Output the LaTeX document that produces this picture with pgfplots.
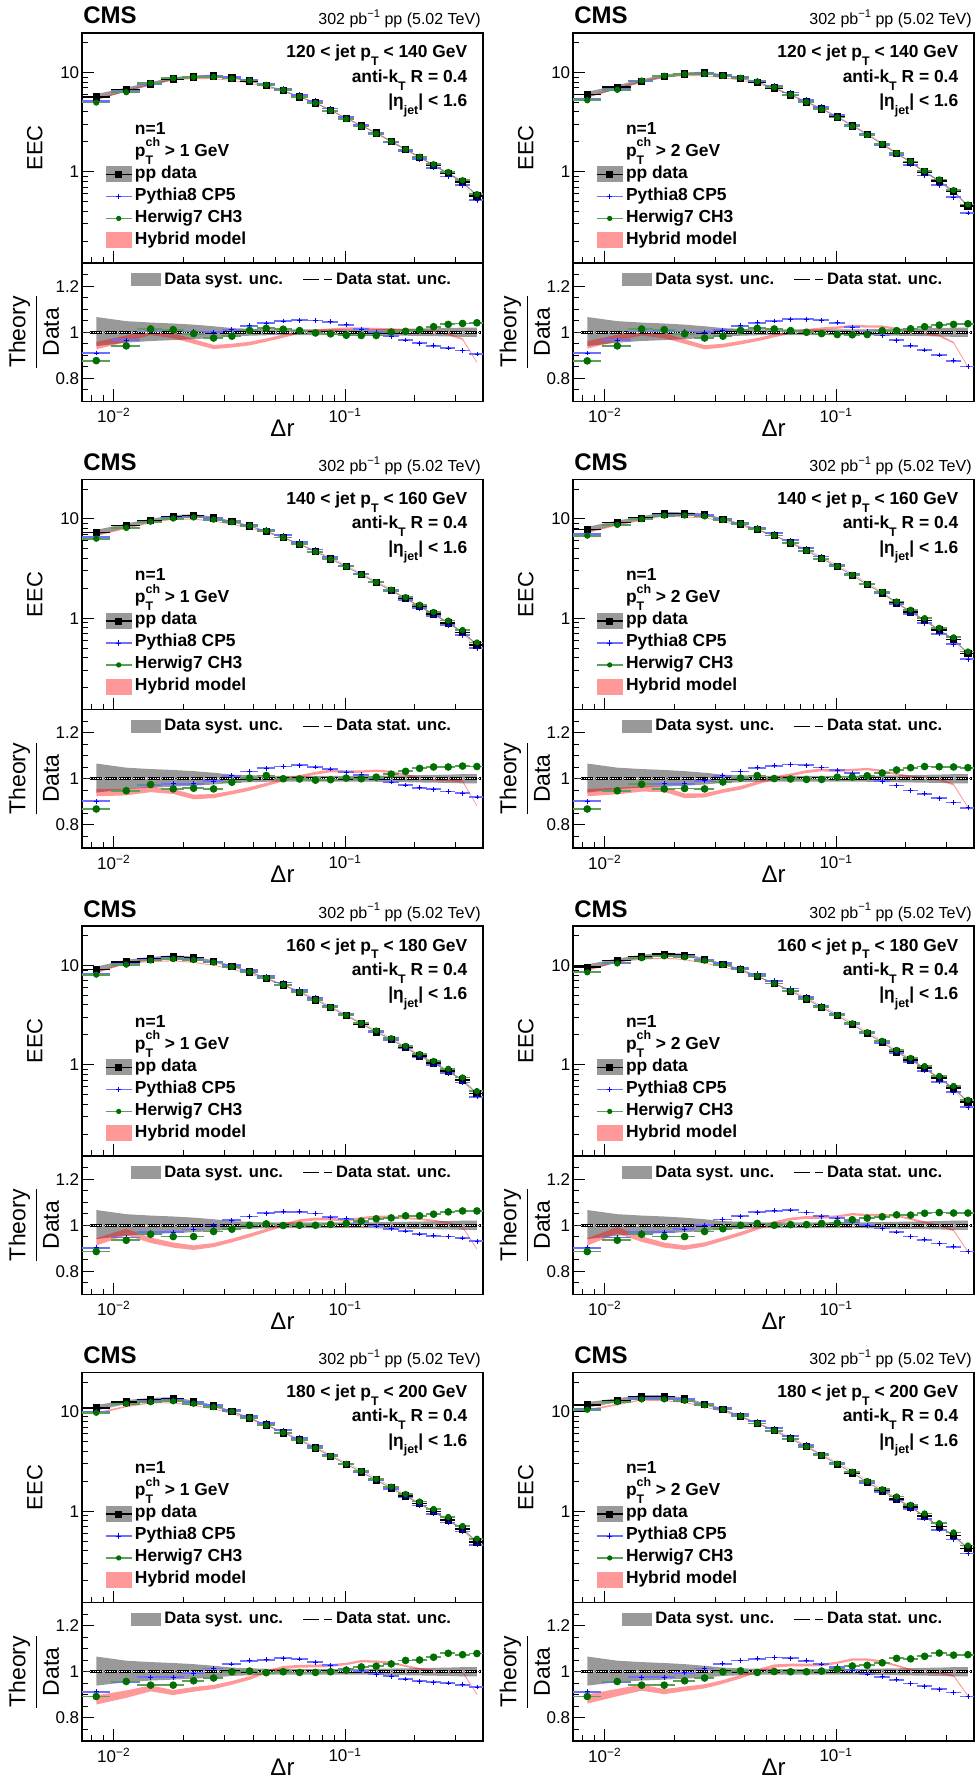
\documentclass[border=0pt]{standalone}
\usepackage{fontspec}
\setmainfont{Liberation Sans}
\usepackage{amsmath}
\usepackage{pgfplots}
\usepackage{pgfplotstable}
\pgfplotsset{compat=1.18}

\definecolor{hgreen}{RGB}{0,110,0}
\definecolor{hgreenl}{RGB}{90,160,90}
\definecolor{pbluel}{RGB}{110,110,255}

\newcommand{\sub}[1]{\raisebox{-0.45em}{\fontsize{6.2}{6.2}\selectfont #1}}
\newcommand{\supr}[1]{\raisebox{0.55em}{\fontsize{6.2}{6.2}\selectfont #1}}

% points: x, relative half bin width, data EEC, Pythia/Data, Herwig/Data
\pgfplotstableread{
x xr d p h
0.00839 0.150 5.67 0.910 0.877
0.01131 0.145 6.72 0.965 0.941
0.01441 0.124 7.67 1.003 1.014
0.01805 0.113 8.63 1.010 1.011
0.02211 0.106 9.03 1.003 0.994
0.02697 0.100 9.25 1.000 0.975
0.03236 0.094 8.83 1.011 0.983
0.03860 0.089 8.23 1.028 1.008
0.04556 0.087 7.38 1.039 1.017
0.05395 0.086 6.57 1.049 1.013
0.06347 0.084 5.67 1.052 1.007
0.07437 0.080 4.93 1.051 0.997
0.08642 0.079 4.15 1.045 0.993
0.1010 0.079 3.44 1.032 0.987
0.1173 0.077 2.90 1.014 0.986
0.1361 0.077 2.45 1.000 0.986
0.1580 0.076 2.01 0.983 1.001
0.1823 0.073 1.67 0.966 1.004
0.2096 0.072 1.40 0.952 1.011
0.2409 0.074 1.16 0.942 1.024
0.2787 0.075 0.96 0.932 1.034
0.3214 0.074 0.79 0.921 1.038
0.3708 0.074 0.57 0.906 1.041
}\tA
% bands: x, data, Hybrid/Data centre c, half width w, side s, syst edge f (upper edge forward, lower edge back)
\pgfplotstableread{
x d c w s f
0.00839 5.67 0.942 0.016 1 1.066
0.01131 6.72 0.972 0.014 1 1.048
0.01441 7.67 1.000 0.012 1 1.042
0.01805 8.63 0.985 0.011 1 1.038
0.02211 9.03 0.960 0.010 1 1.033
0.02697 9.25 0.936 0.009 1 1.026
0.03236 8.83 0.942 0.008 1 1.018
0.03860 8.23 0.951 0.008 1 1.015
0.04556 7.38 0.966 0.007 1 1.013
0.05395 6.57 0.983 0.007 1 1.012
0.06347 5.67 1.000 0.006 1 1.012
0.07437 4.93 1.006 0.006 1 1.012
0.08642 4.15 1.011 0.006 1 1.012
0.1010 3.44 1.016 0.005 1 1.012
0.1173 2.90 1.016 0.005 1 1.012
0.1361 2.45 1.014 0.005 1 1.013
0.1580 2.01 1.012 0.005 1 1.014
0.1823 1.67 1.010 0.004 1 1.015
0.2096 1.40 1.008 0.004 1 1.016
0.2409 1.16 1.005 0.004 1 1.017
0.2787 0.96 0.992 0.004 1 1.018
0.3214 0.79 0.970 0.004 1 1.020
0.3708 0.57 0.870 0.003 1 1.020
0.3708 0.57 0.870 0.003 -1 0.980
0.3214 0.79 0.970 0.004 -1 0.980
0.2787 0.96 0.992 0.004 -1 0.982
0.2409 1.16 1.005 0.004 -1 0.983
0.2096 1.40 1.008 0.004 -1 0.984
0.1823 1.67 1.010 0.004 -1 0.985
0.1580 2.01 1.012 0.005 -1 0.986
0.1361 2.45 1.014 0.005 -1 0.987
0.1173 2.90 1.016 0.005 -1 0.988
0.1010 3.44 1.016 0.005 -1 0.988
0.08642 4.15 1.011 0.006 -1 0.988
0.07437 4.93 1.006 0.006 -1 0.988
0.06347 5.67 1.000 0.006 -1 0.988
0.05395 6.57 0.983 0.007 -1 0.988
0.04556 7.38 0.966 0.007 -1 0.987
0.03860 8.23 0.951 0.008 -1 0.985
0.03236 8.83 0.942 0.008 -1 0.982
0.02697 9.25 0.936 0.009 -1 0.975
0.02211 9.03 0.960 0.010 -1 0.970
0.01805 8.63 0.985 0.011 -1 0.966
0.01441 7.67 1.000 0.012 -1 0.962
0.01131 6.72 0.972 0.014 -1 0.955
0.00839 5.67 0.942 0.016 -1 0.940
}\bA

\pgfplotstableread{
x xr d p h
0.00839 0.150 5.98 0.910 0.876
0.01131 0.145 7.10 0.965 0.941
0.01441 0.124 8.17 1.003 1.014
0.01805 0.113 9.18 1.006 1.011
0.02211 0.106 9.69 1.003 0.993
0.02697 0.100 9.93 1.000 0.975
0.03236 0.094 9.40 1.010 0.983
0.03860 0.089 8.77 1.028 1.008
0.04556 0.087 7.98 1.041 1.017
0.05395 0.086 6.99 1.049 1.014
0.06347 0.084 5.94 1.056 1.007
0.07437 0.080 5.04 1.056 1.000
0.08642 0.079 4.28 1.052 0.994
0.1010 0.079 3.55 1.041 0.990
0.1173 0.077 2.90 1.021 0.989
0.1361 0.077 2.37 1.003 0.990
0.1580 0.076 1.89 0.986 1.007
0.1823 0.073 1.53 0.965 1.007
0.2096 0.072 1.25 0.941 1.015
0.2409 0.074 0.99 0.923 1.024
0.2787 0.075 0.81 0.901 1.031
0.3214 0.074 0.63 0.876 1.034
0.3708 0.074 0.45 0.852 1.037
}\tB
\pgfplotstableread{
x d c w s f
0.00839 5.98 0.945 0.016 1 1.066
0.01131 7.10 0.975 0.014 1 1.048
0.01441 8.17 0.998 0.012 1 1.042
0.01805 9.18 0.985 0.011 1 1.038
0.02211 9.69 0.960 0.010 1 1.033
0.02697 9.93 0.935 0.009 1 1.026
0.03236 9.40 0.942 0.008 1 1.018
0.03860 8.77 0.955 0.008 1 1.015
0.04556 7.98 0.968 0.007 1 1.013
0.05395 6.99 0.985 0.007 1 1.012
0.06347 5.94 1.000 0.006 1 1.012
0.07437 5.04 1.008 0.006 1 1.012
0.08642 4.28 1.015 0.006 1 1.012
0.1010 3.55 1.020 0.005 1 1.012
0.1173 2.90 1.027 0.005 1 1.012
0.1361 2.37 1.025 0.005 1 1.013
0.1580 1.89 1.025 0.005 1 1.014
0.1823 1.53 1.015 0.004 1 1.015
0.2096 1.25 1.000 0.004 1 1.016
0.2409 0.99 0.995 0.004 1 1.017
0.2787 0.81 0.985 0.004 1 1.018
0.3214 0.63 0.955 0.004 1 1.020
0.3708 0.45 0.850 0.003 1 1.020
0.3708 0.45 0.850 0.003 -1 0.980
0.3214 0.63 0.955 0.004 -1 0.980
0.2787 0.81 0.985 0.004 -1 0.982
0.2409 0.99 0.995 0.004 -1 0.983
0.2096 1.25 1.000 0.004 -1 0.984
0.1823 1.53 1.015 0.004 -1 0.985
0.1580 1.89 1.025 0.005 -1 0.986
0.1361 2.37 1.025 0.005 -1 0.987
0.1173 2.90 1.027 0.005 -1 0.988
0.1010 3.55 1.020 0.005 -1 0.988
0.08642 4.28 1.015 0.006 -1 0.988
0.07437 5.04 1.008 0.006 -1 0.988
0.06347 5.94 1.000 0.006 -1 0.988
0.05395 6.99 0.985 0.007 -1 0.988
0.04556 7.98 0.968 0.007 -1 0.987
0.03860 8.77 0.955 0.008 -1 0.985
0.03236 9.40 0.942 0.008 -1 0.982
0.02697 9.93 0.935 0.009 -1 0.975
0.02211 9.69 0.960 0.010 -1 0.970
0.01805 9.18 0.985 0.011 -1 0.966
0.01441 8.17 0.998 0.012 -1 0.962
0.01131 7.10 0.975 0.014 -1 0.955
0.00839 5.98 0.945 0.016 -1 0.940
}\bB

\pgfplotstableread{
x xr d p h
0.00839 0.150 7.28 0.902 0.869
0.01131 0.145 8.57 0.948 0.948
0.01441 0.124 9.62 0.971 0.975
0.01805 0.113 10.55 0.978 0.956
0.02211 0.106 10.8 0.979 0.959
0.02697 0.100 10.3 0.989 0.956
0.03236 0.094 9.40 1.013 0.985
0.03860 0.089 8.51 1.031 1.003
0.04556 0.087 7.51 1.045 1.014
0.05395 0.086 6.49 1.053 1.000
0.06347 0.084 5.56 1.058 0.999
0.07437 0.080 4.69 1.051 0.994
0.08642 0.079 3.96 1.042 0.996
0.1010 0.079 3.31 1.028 1.003
0.1173 0.077 2.75 1.017 1.000
0.1361 0.077 2.29 1.001 1.007
0.1580 0.076 1.90 0.986 1.020
0.1823 0.073 1.58 0.973 1.032
0.2096 0.072 1.31 0.961 1.045
0.2409 0.074 1.10 0.955 1.051
0.2787 0.075 0.90 0.945 1.051
0.3214 0.074 0.72 0.937 1.055
0.3708 0.074 0.54 0.921 1.053
}\tC
\pgfplotstableread{
x d c w s f
0.00839 7.28 0.940 0.016 1 1.066
0.01131 8.57 0.942 0.014 1 1.048
0.01441 9.62 0.954 0.012 1 1.042
0.01805 10.55 0.945 0.011 1 1.038
0.02211 10.8 0.921 0.010 1 1.033
0.02697 10.3 0.925 0.009 1 1.026
0.03236 9.40 0.940 0.008 1 1.018
0.03860 8.51 0.956 0.008 1 1.015
0.04556 7.51 0.975 0.007 1 1.013
0.05395 6.49 0.996 0.007 1 1.012
0.06347 5.56 1.010 0.006 1 1.012
0.07437 4.69 1.024 0.006 1 1.012
0.08642 3.96 1.034 0.006 1 1.012
0.1010 3.31 1.031 0.005 1 1.012
0.1173 2.75 1.031 0.005 1 1.012
0.1361 2.29 1.035 0.005 1 1.013
0.1580 1.90 1.030 0.005 1 1.014
0.1823 1.58 1.017 0.004 1 1.015
0.2096 1.31 1.003 0.004 1 1.016
0.2409 1.10 0.996 0.004 1 1.017
0.2787 0.90 0.993 0.004 1 1.018
0.3214 0.72 0.989 0.004 1 1.020
0.3708 0.54 0.883 0.003 1 1.020
0.3708 0.54 0.883 0.003 -1 0.980
0.3214 0.72 0.989 0.004 -1 0.980
0.2787 0.90 0.993 0.004 -1 0.982
0.2409 1.10 0.996 0.004 -1 0.983
0.2096 1.31 1.003 0.004 -1 0.984
0.1823 1.58 1.017 0.004 -1 0.985
0.1580 1.90 1.030 0.005 -1 0.986
0.1361 2.29 1.035 0.005 -1 0.987
0.1173 2.75 1.031 0.005 -1 0.988
0.1010 3.31 1.031 0.005 -1 0.988
0.08642 3.96 1.034 0.006 -1 0.988
0.07437 4.69 1.024 0.006 -1 0.988
0.06347 5.56 1.010 0.006 -1 0.988
0.05395 6.49 0.996 0.007 -1 0.988
0.04556 7.51 0.975 0.007 -1 0.987
0.03860 8.51 0.956 0.008 -1 0.985
0.03236 9.40 0.940 0.008 -1 0.982
0.02697 10.3 0.925 0.009 -1 0.975
0.02211 10.8 0.921 0.010 -1 0.970
0.01805 10.55 0.945 0.011 -1 0.966
0.01441 9.62 0.954 0.012 -1 0.962
0.01131 8.57 0.942 0.014 -1 0.955
0.00839 7.28 0.940 0.016 -1 0.940
}\bC

\pgfplotstableread{
x xr d p h
0.00839 0.150 7.81 0.902 0.869
0.01131 0.145 9.19 0.948 0.948
0.01441 0.124 10.2 0.975 0.976
0.01805 0.113 11.3 0.978 0.956
0.02211 0.106 11.3 0.978 0.958
0.02697 0.100 11.1 0.992 0.956
0.03236 0.094 9.92 1.013 0.986
0.03860 0.089 8.91 1.031 1.003
0.04556 0.087 7.81 1.048 1.014
0.05395 0.086 6.80 1.056 1.001
0.06347 0.084 5.73 1.062 0.999
0.07437 0.080 4.80 1.058 0.997
0.08642 0.079 3.99 1.049 0.997
0.1010 0.079 3.31 1.037 1.007
0.1173 0.077 2.71 1.024 1.007
0.1361 0.077 2.18 1.010 1.013
0.1580 0.076 1.79 0.989 1.025
0.1823 0.073 1.42 0.971 1.038
0.2096 0.072 1.16 0.949 1.048
0.2409 0.074 0.95 0.935 1.053
0.2787 0.075 0.76 0.916 1.052
0.3214 0.074 0.61 0.897 1.051
0.3708 0.074 0.44 0.874 1.048
}\tD
\pgfplotstableread{
x d c w s f
0.00839 7.81 0.940 0.016 1 1.066
0.01131 9.19 0.947 0.014 1 1.048
0.01441 10.2 0.956 0.012 1 1.042
0.01805 11.3 0.954 0.011 1 1.038
0.02211 11.3 0.926 0.010 1 1.033
0.02697 11.1 0.928 0.009 1 1.026
0.03236 9.92 0.947 0.008 1 1.018
0.03860 8.91 0.961 0.008 1 1.015
0.04556 7.81 0.982 0.007 1 1.013
0.05395 6.80 1.003 0.007 1 1.012
0.06347 5.73 1.017 0.006 1 1.012
0.07437 4.80 1.031 0.006 1 1.012
0.08642 3.99 1.038 0.006 1 1.012
0.1010 3.31 1.034 0.005 1 1.012
0.1173 2.71 1.038 0.005 1 1.012
0.1361 2.18 1.042 0.005 1 1.013
0.1580 1.79 1.034 0.005 1 1.014
0.1823 1.42 1.020 0.004 1 1.015
0.2096 1.16 1.010 0.004 1 1.016
0.2409 0.95 1.003 0.004 1 1.017
0.2787 0.76 0.996 0.004 1 1.018
0.3214 0.61 0.975 0.004 1 1.020
0.3708 0.44 0.876 0.003 1 1.020
0.3708 0.44 0.876 0.003 -1 0.980
0.3214 0.61 0.975 0.004 -1 0.980
0.2787 0.76 0.996 0.004 -1 0.982
0.2409 0.95 1.003 0.004 -1 0.983
0.2096 1.16 1.010 0.004 -1 0.984
0.1823 1.42 1.020 0.004 -1 0.985
0.1580 1.79 1.034 0.005 -1 0.986
0.1361 2.18 1.042 0.005 -1 0.987
0.1173 2.71 1.038 0.005 -1 0.988
0.1010 3.31 1.034 0.005 -1 0.988
0.08642 3.99 1.038 0.006 -1 0.988
0.07437 4.80 1.031 0.006 -1 0.988
0.06347 5.73 1.017 0.006 -1 0.988
0.05395 6.80 1.003 0.007 -1 0.988
0.04556 7.81 0.982 0.007 -1 0.987
0.03860 8.91 0.961 0.008 -1 0.985
0.03236 9.92 0.947 0.008 -1 0.982
0.02697 11.1 0.928 0.009 -1 0.975
0.02211 11.3 0.926 0.010 -1 0.970
0.01805 11.3 0.954 0.011 -1 0.966
0.01441 10.2 0.956 0.012 -1 0.962
0.01131 9.19 0.947 0.014 -1 0.955
0.00839 7.81 0.940 0.016 -1 0.940
}\bD

\pgfplotstableread{
x xr d p h
0.00839 0.150 9.12 0.903 0.886
0.01131 0.145 10.9 0.947 0.935
0.01441 0.124 11.7 0.971 0.961
0.01805 0.113 12.2 0.971 0.951
0.02211 0.106 11.9 0.982 0.951
0.02697 0.100 11.0 0.999 0.973
0.03236 0.094 9.85 1.022 0.983
0.03860 0.089 8.63 1.038 1.000
0.04556 0.087 7.45 1.052 1.006
0.05395 0.086 6.38 1.058 0.999
0.06347 0.084 5.38 1.059 1.000
0.07437 0.080 4.50 1.051 1.000
0.08642 0.079 3.77 1.035 1.004
0.1010 0.079 3.13 1.028 1.008
0.1173 0.077 2.58 1.015 1.018
0.1361 0.077 2.15 0.997 1.028
0.1580 0.076 1.79 0.985 1.032
0.1823 0.073 1.49 0.975 1.041
0.2096 0.072 1.23 0.962 1.041
0.2409 0.074 1.04 0.955 1.048
0.2787 0.075 0.86 0.951 1.058
0.3214 0.074 0.70 0.945 1.062
0.3708 0.074 0.51 0.931 1.062
}\tE
\pgfplotstableread{
x d c w s f
0.00839 9.12 0.928 0.016 1 1.066
0.01131 10.9 0.971 0.014 1 1.048
0.01441 11.7 0.935 0.012 1 1.042
0.01805 12.2 0.914 0.011 1 1.038
0.02211 11.9 0.903 0.010 1 1.033
0.02697 11.0 0.914 0.009 1 1.026
0.03236 9.85 0.934 0.008 1 1.018
0.03860 8.63 0.956 0.008 1 1.015
0.04556 7.45 0.978 0.007 1 1.013
0.05395 6.38 1.001 0.007 1 1.012
0.06347 5.38 1.020 0.006 1 1.012
0.07437 4.50 1.027 0.006 1 1.012
0.08642 3.77 1.027 0.006 1 1.012
0.1010 3.13 1.020 0.005 1 1.012
0.1173 2.58 1.031 0.005 1 1.012
0.1361 2.15 1.037 0.005 1 1.013
0.1580 1.79 1.037 0.005 1 1.014
0.1823 1.49 1.031 0.004 1 1.015
0.2096 1.23 1.027 0.004 1 1.016
0.2409 1.04 1.020 0.004 1 1.017
0.2787 0.86 1.010 0.004 1 1.018
0.3214 0.70 0.992 0.004 1 1.020
0.3708 0.51 0.897 0.003 1 1.020
0.3708 0.51 0.897 0.003 -1 0.980
0.3214 0.70 0.992 0.004 -1 0.980
0.2787 0.86 1.010 0.004 -1 0.982
0.2409 1.04 1.020 0.004 -1 0.983
0.2096 1.23 1.027 0.004 -1 0.984
0.1823 1.49 1.031 0.004 -1 0.985
0.1580 1.79 1.037 0.005 -1 0.986
0.1361 2.15 1.037 0.005 -1 0.987
0.1173 2.58 1.031 0.005 -1 0.988
0.1010 3.13 1.020 0.005 -1 0.988
0.08642 3.77 1.027 0.006 -1 0.988
0.07437 4.50 1.027 0.006 -1 0.988
0.06347 5.38 1.020 0.006 -1 0.988
0.05395 6.38 1.001 0.007 -1 0.988
0.04556 7.45 0.978 0.007 -1 0.987
0.03860 8.63 0.956 0.008 -1 0.985
0.03236 9.85 0.934 0.008 -1 0.982
0.02697 11.0 0.914 0.009 -1 0.975
0.02211 11.9 0.903 0.010 -1 0.970
0.01805 12.2 0.914 0.011 -1 0.966
0.01441 11.7 0.935 0.012 -1 0.962
0.01131 10.9 0.971 0.014 -1 0.955
0.00839 9.12 0.928 0.016 -1 0.940
}\bE

\pgfplotstableread{
x xr d p h
0.00839 0.150 9.62 0.903 0.886
0.01131 0.145 11.2 0.947 0.935
0.01441 0.124 12.3 0.971 0.961
0.01805 0.113 13.0 0.971 0.951
0.02211 0.106 12.7 0.983 0.951
0.02697 0.100 11.5 1.000 0.973
0.03236 0.094 10.3 1.025 0.985
0.03860 0.089 9.12 1.039 1.000
0.04556 0.087 7.80 1.056 1.008
0.05395 0.086 6.58 1.063 1.000
0.06347 0.084 5.51 1.066 1.003
0.07437 0.080 4.60 1.055 1.003
0.08642 0.079 3.77 1.039 1.008
0.1010 0.079 3.13 1.031 1.010
0.1173 0.077 2.55 1.014 1.024
0.1361 0.077 2.06 1.000 1.031
0.1580 0.076 1.68 0.986 1.037
0.1823 0.073 1.35 0.971 1.045
0.2096 0.072 1.12 0.951 1.044
0.2409 0.074 0.92 0.937 1.052
0.2787 0.075 0.73 0.921 1.055
0.3214 0.074 0.58 0.907 1.053
0.3708 0.074 0.42 0.886 1.053
}\tF
\pgfplotstableread{
x d c w s f
0.00839 9.62 0.928 0.016 1 1.066
0.01131 11.2 0.978 0.014 1 1.048
0.01441 12.3 0.940 0.012 1 1.042
0.01805 13.0 0.914 0.011 1 1.038
0.02211 12.7 0.903 0.010 1 1.033
0.02697 11.5 0.917 0.009 1 1.026
0.03236 10.3 0.940 0.008 1 1.018
0.03860 9.12 0.963 0.008 1 1.015
0.04556 7.80 0.987 0.007 1 1.013
0.05395 6.58 1.010 0.007 1 1.012
0.06347 5.51 1.027 0.006 1 1.012
0.07437 4.60 1.034 0.006 1 1.012
0.08642 3.77 1.034 0.006 1 1.012
0.1010 3.13 1.038 0.005 1 1.012
0.1173 2.55 1.048 0.005 1 1.012
0.1361 2.06 1.044 0.005 1 1.013
0.1580 1.68 1.044 0.005 1 1.014
0.1823 1.35 1.041 0.004 1 1.015
0.2096 1.12 1.027 0.004 1 1.016
0.2409 0.92 1.013 0.004 1 1.017
0.2787 0.73 0.999 0.004 1 1.018
0.3214 0.58 0.978 0.004 1 1.020
0.3708 0.42 0.886 0.003 1 1.020
0.3708 0.42 0.886 0.003 -1 0.980
0.3214 0.58 0.978 0.004 -1 0.980
0.2787 0.73 0.999 0.004 -1 0.982
0.2409 0.92 1.013 0.004 -1 0.983
0.2096 1.12 1.027 0.004 -1 0.984
0.1823 1.35 1.041 0.004 -1 0.985
0.1580 1.68 1.044 0.005 -1 0.986
0.1361 2.06 1.044 0.005 -1 0.987
0.1173 2.55 1.048 0.005 -1 0.988
0.1010 3.13 1.038 0.005 -1 0.988
0.08642 3.77 1.034 0.006 -1 0.988
0.07437 4.60 1.034 0.006 -1 0.988
0.06347 5.51 1.027 0.006 -1 0.988
0.05395 6.58 1.010 0.007 -1 0.988
0.04556 7.80 0.987 0.007 -1 0.987
0.03860 9.12 0.963 0.008 -1 0.985
0.03236 10.3 0.940 0.008 -1 0.982
0.02697 11.5 0.917 0.009 -1 0.975
0.02211 12.7 0.903 0.010 -1 0.970
0.01805 13.0 0.914 0.011 -1 0.966
0.01441 12.3 0.940 0.012 -1 0.962
0.01131 11.2 0.978 0.014 -1 0.955
0.00839 9.62 0.928 0.016 -1 0.940
}\bF

\pgfplotstableread{
x xr d p h
0.00839 0.150 11.0 0.914 0.893
0.01131 0.145 12.6 0.956 0.958
0.01441 0.124 13.3 0.976 0.942
0.01805 0.113 13.6 0.976 0.942
0.02211 0.106 12.6 0.994 0.961
0.02697 0.100 11.5 1.014 0.973
0.03236 0.094 10.1 1.034 1.000
0.03860 0.089 8.69 1.048 1.003
0.04556 0.087 7.39 1.052 0.996
0.05395 0.086 6.18 1.059 1.000
0.06347 0.084 5.21 1.055 0.997
0.07437 0.080 4.33 1.041 0.997
0.08642 0.079 3.59 1.028 1.000
0.1010 0.079 2.98 1.014 1.007
0.1173 0.077 2.48 1.004 1.021
0.1361 0.077 2.06 0.989 1.024
0.1580 0.076 1.71 0.980 1.034
0.1823 0.073 1.42 0.969 1.049
0.2096 0.072 1.19 0.959 1.051
0.2409 0.074 0.99 0.954 1.063
0.2787 0.075 0.81 0.951 1.080
0.3214 0.074 0.66 0.944 1.074
0.3708 0.074 0.49 0.934 1.079
}\tG
\pgfplotstableread{
x d c w s f
0.00839 11.0 0.878 0.020 1 1.066
0.01131 12.6 0.903 0.016 1 1.048
0.01441 13.3 0.928 0.013 1 1.042
0.01805 13.6 0.910 0.011 1 1.038
0.02211 12.6 0.924 0.010 1 1.033
0.02697 11.5 0.934 0.009 1 1.026
0.03236 10.1 0.952 0.008 1 1.018
0.03860 8.69 0.973 0.008 1 1.015
0.04556 7.39 0.999 0.007 1 1.013
0.05395 6.18 1.018 0.007 1 1.012
0.06347 5.21 1.024 0.006 1 1.012
0.07437 4.33 1.025 0.006 1 1.012
0.08642 3.59 1.027 0.006 1 1.012
0.1010 2.98 1.034 0.005 1 1.012
0.1173 2.48 1.046 0.005 1 1.012
0.1361 2.06 1.044 0.005 1 1.013
0.1580 1.71 1.039 0.005 1 1.014
0.1823 1.42 1.025 0.004 1 1.015
0.2096 1.19 1.013 0.004 1 1.016
0.2409 0.99 1.004 0.004 1 1.017
0.2787 0.81 1.001 0.004 1 1.018
0.3214 0.66 0.999 0.004 1 1.020
0.3708 0.49 0.903 0.003 1 1.020
0.3708 0.49 0.903 0.003 -1 0.980
0.3214 0.66 0.999 0.004 -1 0.980
0.2787 0.81 1.001 0.004 -1 0.982
0.2409 0.99 1.004 0.004 -1 0.983
0.2096 1.19 1.013 0.004 -1 0.984
0.1823 1.42 1.025 0.004 -1 0.985
0.1580 1.71 1.039 0.005 -1 0.986
0.1361 2.06 1.044 0.005 -1 0.987
0.1173 2.48 1.046 0.005 -1 0.988
0.1010 2.98 1.034 0.005 -1 0.988
0.08642 3.59 1.027 0.006 -1 0.988
0.07437 4.33 1.025 0.006 -1 0.988
0.06347 5.21 1.024 0.006 -1 0.988
0.05395 6.18 1.018 0.007 -1 0.988
0.04556 7.39 0.999 0.007 -1 0.987
0.03860 8.69 0.973 0.008 -1 0.985
0.03236 10.1 0.952 0.008 -1 0.982
0.02697 11.5 0.934 0.009 -1 0.975
0.02211 12.6 0.924 0.010 -1 0.970
0.01805 13.6 0.910 0.011 -1 0.966
0.01441 13.3 0.928 0.013 -1 0.962
0.01131 12.6 0.903 0.016 -1 0.955
0.00839 11.0 0.878 0.020 -1 0.940
}\bG

\pgfplotstableread{
x xr d p h
0.00839 0.150 11.8 0.914 0.893
0.01131 0.145 13.1 0.956 0.958
0.01441 0.124 14.2 0.976 0.942
0.01805 0.113 14.2 0.976 0.942
0.02211 0.106 13.5 0.996 0.961
0.02697 0.100 12.0 1.014 0.973
0.03236 0.094 10.6 1.035 1.000
0.03860 0.089 9.04 1.049 1.004
0.04556 0.087 7.69 1.056 0.997
0.05395 0.086 6.48 1.062 1.001
0.06347 0.084 5.38 1.059 1.000
0.07437 0.080 4.47 1.048 1.000
0.08642 0.079 3.65 1.034 1.003
0.1010 0.079 2.98 1.022 1.011
0.1173 0.077 2.44 1.007 1.025
0.1361 0.077 1.96 0.990 1.028
0.1580 0.076 1.60 0.979 1.039
0.1823 0.073 1.33 0.965 1.058
0.2096 0.072 1.10 0.949 1.056
0.2409 0.074 0.89 0.937 1.067
0.2787 0.075 0.70 0.924 1.081
0.3214 0.074 0.57 0.910 1.072
0.3708 0.074 0.42 0.893 1.074
}\tH
\pgfplotstableread{
x d c w s f
0.00839 11.8 0.882 0.020 1 1.066
0.01131 13.1 0.910 0.016 1 1.048
0.01441 14.2 0.931 0.013 1 1.042
0.01805 14.2 0.914 0.011 1 1.038
0.02211 13.5 0.926 0.010 1 1.033
0.02697 12.0 0.937 0.009 1 1.026
0.03236 10.6 0.956 0.008 1 1.018
0.03860 9.04 0.979 0.008 1 1.015
0.04556 7.69 1.004 0.007 1 1.013
0.05395 6.48 1.025 0.007 1 1.012
0.06347 5.38 1.029 0.006 1 1.012
0.07437 4.47 1.029 0.006 1 1.012
0.08642 3.65 1.029 0.006 1 1.012
0.1010 2.98 1.039 0.005 1 1.012
0.1173 2.44 1.053 0.005 1 1.012
0.1361 1.96 1.053 0.005 1 1.013
0.1580 1.60 1.044 0.005 1 1.014
0.1823 1.33 1.027 0.004 1 1.015
0.2096 1.10 1.008 0.004 1 1.016
0.2409 0.89 0.999 0.004 1 1.017
0.2787 0.70 0.994 0.004 1 1.018
0.3214 0.57 0.983 0.004 1 1.020
0.3708 0.42 0.896 0.003 1 1.020
0.3708 0.42 0.896 0.003 -1 0.980
0.3214 0.57 0.983 0.004 -1 0.980
0.2787 0.70 0.994 0.004 -1 0.982
0.2409 0.89 0.999 0.004 -1 0.983
0.2096 1.10 1.008 0.004 -1 0.984
0.1823 1.33 1.027 0.004 -1 0.985
0.1580 1.60 1.044 0.005 -1 0.986
0.1361 1.96 1.053 0.005 -1 0.987
0.1173 2.44 1.053 0.005 -1 0.988
0.1010 2.98 1.039 0.005 -1 0.988
0.08642 3.65 1.029 0.006 -1 0.988
0.07437 4.47 1.029 0.006 -1 0.988
0.06347 5.38 1.029 0.006 -1 0.988
0.05395 6.48 1.025 0.007 -1 0.988
0.04556 7.69 1.004 0.007 -1 0.987
0.03860 9.04 0.979 0.008 -1 0.985
0.03236 10.6 0.956 0.008 -1 0.982
0.02697 12.0 0.937 0.009 -1 0.975
0.02211 13.5 0.926 0.010 -1 0.970
0.01805 14.2 0.914 0.011 -1 0.966
0.01441 14.2 0.931 0.013 -1 0.962
0.01131 13.1 0.910 0.016 -1 0.955
0.00839 11.8 0.882 0.020 -1 0.940
}\bH

% #1 left, #2 top, #3 points table, #4 band table, #5 #6 jet pT range, #7 track pT cut
\newcommand{\panel}[7]{%
\begin{scope}[shift={(#1,-#2)}]
\begin{axis}[xmode=log, ymode=log, scale only axis, width=200.5pt, height=115pt,
    at={(0pt,0pt)}, anchor=north west,
    xmin=0.00728, xmax=0.394, ymin=0.12, ymax=25,
    axis line style={line width=0.9pt},
    tick align=inside, xtick pos=left, ytick pos=left,
    major tick length=6pt, minor tick length=3pt,
    tick style={black, line width=0.5pt},
    xtick={0.01,0.1}, xticklabels={},
    minor xtick={0.008,0.009,0.02,0.03,0.04,0.05,0.06,0.07,0.08,0.09,0.2,0.3},
    ytick={1,10}, yticklabels={1,10},
    minor ytick={0.2,0.3,0.4,0.5,0.6,0.7,0.8,0.9,2,3,4,5,6,7,8,9,20},
    tick label style={font=\fontsize{8.5}{9}\selectfont},
    yticklabel style={inner xsep=1.2pt},
    legend cell align=left,
    legend style={at={(0.0561,0.626)}, anchor=north west, draw=none, fill=none,
      inner sep=0pt, row sep=0pt,
      font=\bfseries\fontsize{8.7}{9}\selectfont,
      nodes={inner xsep=1.25pt, inner ysep=0pt, text height=7.5pt, text depth=3.5pt}}]
  \addplot[fill=black!40, draw=none, forget plot] table[x=x, y expr=\thisrow{d}*\thisrow{f}] {#4};
  \addplot[fill=red, fill opacity=0.4, draw=none, forget plot] table[x=x, y expr=\thisrow{d}*(\thisrow{c}+\thisrow{s}*\thisrow{w})] {#4};
  \addplot[black, only marks, mark=square*, mark size=1.6pt, forget plot,
    error bars/x dir=both, error bars/x explicit relative, error bars/error mark=none,
    error bars/error bar style={black, line width=0.8pt}] table[x=x, y=d, x error=xr] {#3};
  \addplot[blue, only marks, mark=+, mark size=1.2pt, forget plot,
    error bars/x dir=both, error bars/x explicit relative, error bars/error mark=none,
    error bars/error bar style={pbluel, line width=0.9pt}] table[x=x, y expr=\thisrow{d}*\thisrow{p}, x error=xr] {#3};
  \addplot[hgreen, only marks, mark=*, mark size=1.35pt, forget plot,
    error bars/x dir=both, error bars/x explicit relative, error bars/error mark=none,
    error bars/error bar style={hgreenl, line width=0.9pt}] table[x=x, y expr=\thisrow{d}*\thisrow{h}, x error=xr] {#3};
  \addlegendimage{empty legend}
  \addlegendentry{n=1}
  \addlegendimage{empty legend}
  \addlegendentry{p\rlap{\sub{T}}\supr{ch} > #7 GeV}
  \addlegendimage{legend image code/.code={\fill[black!40, draw=none] (0pt,-4pt) rectangle (13pt,4pt);
      \draw[black, line width=0.6pt] (0pt,0pt) -- (13pt,0pt);
      \draw[black, mark=square*, mark size=1.5pt] plot coordinates {(6.5pt,0pt)};}}
  \addlegendentry{pp data}
  \addlegendimage{legend image code/.code={\draw[pbluel, line width=0.8pt] (0pt,0pt) -- (13pt,0pt);
      \draw[blue, mark=+, mark size=1.3pt] plot coordinates {(6.5pt,0pt)};}}
  \addlegendentry{Pythia8 CP5}
  \addlegendimage{legend image code/.code={\draw[hgreenl, line width=0.8pt] (0pt,0pt) -- (13pt,0pt);
      \draw[hgreen, mark=*, mark size=1.1pt] plot coordinates {(6.5pt,0pt)};}}
  \addlegendentry{Herwig7 CH3}
  \addlegendimage{legend image code/.code={\fill[red, fill opacity=0.4, draw=none] (0pt,-4pt) rectangle (13pt,4pt);}}
  \addlegendentry{Hybrid model}
\end{axis}
\begin{axis}[xmode=log, scale only axis, width=200.5pt, height=69.25pt,
    at={(0pt,-115pt)}, anchor=north west,
    xmin=0.00728, xmax=0.394, ymin=0.7, ymax=1.3,
    axis line style={line width=0.9pt},
    tick align=inside, xtick pos=left, ytick pos=left,
    major tick length=6pt, minor tick length=3pt,
    tick style={black, line width=0.5pt},
    xtick={0.01,0.1}, xticklabels={{10\textsuperscript{−2}},{10\textsuperscript{−1}}},
    minor xtick={0.008,0.009,0.02,0.03,0.04,0.05,0.06,0.07,0.08,0.09,0.2,0.3},
    ytick={0.8,1,1.2}, yticklabels={0.8,1,1.2},
    minor ytick={0.75,0.85,0.9,0.95,1.05,1.1,1.15,1.25},
    tick label style={font=\fontsize{8.5}{9}\selectfont},
    yticklabel style={inner xsep=1.2pt},
    legend columns=2, legend cell align=left,
    legend style={at={(0.121,0.942)}, anchor=north west, draw=none, fill=none,
      inner sep=0pt,
      font=\bfseries\fontsize{8.3}{9}\selectfont,
      nodes={inner xsep=1.75pt, inner ysep=0pt, text height=6.5pt, text depth=2pt},
      /tikz/every even column/.append style={column sep=8pt}}]
  \addplot[fill=black!40, draw=none, forget plot] table[x=x, y=f] {#4};
  \addplot[fill=red, fill opacity=0.4, draw=none, forget plot] table[x=x, y expr=\thisrow{c}+\thisrow{s}*\thisrow{w}] {#4};
  \addplot[black!80, line width=0.35pt, dash pattern=on 1.2pt off 1pt, forget plot] coordinates {(0.00728,1) (0.394,1)};
  \addplot[black, line width=1.3pt, dash pattern=on 6pt off 1.2pt, forget plot] coordinates {(0.0079,1) (0.386,1)};
  \addplot[white, line width=0.35pt, dash pattern=on 0.6pt off 0.6pt, forget plot] coordinates {(0.0079,1) (0.386,1)};
  \addplot[blue, only marks, mark=+, mark size=1.2pt, forget plot,
    error bars/x dir=both, error bars/x explicit relative, error bars/error mark=none,
    error bars/error bar style={pbluel, line width=0.9pt}] table[x=x, y=p, x error=xr] {#3};
  \addplot[hgreen, only marks, mark=*, mark size=1.7pt, forget plot,
    error bars/x dir=both, error bars/x explicit relative, error bars/error mark=none,
    error bars/error bar style={hgreenl, line width=0.9pt}] table[x=x, y=h, x error=xr] {#3};
  \addlegendimage{legend image code/.code={\fill[black!40, draw=none] (0pt,-3.25pt) rectangle (15pt,3.25pt);}}
  \addlegendentry{Data syst. unc.}
  \addlegendimage{legend image code/.code={\draw[black, line width=0.5pt] (0pt,0pt) -- (8pt,0pt);
      \draw[black, line width=0.5pt] (10.5pt,0pt) -- (14.5pt,0pt);}}
  \addlegendentry{Data stat. unc.}
\end{axis}
\node[anchor=base west, inner sep=0pt] at (0.5pt,4.5pt) {\bfseries\fontsize{12}{13}\selectfont CMS};
\node[anchor=base east, inner sep=0pt] at (199.5pt,4pt) {\fontsize{8}{9}\selectfont 302 pb\raisebox{0.45em}{\fontsize{5.6}{6}\selectfont −1} pp (5.02 TeV)};
\node[anchor=base east, inner sep=0pt, font=\bfseries\fontsize{8.7}{9}\selectfont] at (192.8pt,-12.5pt) {#5 < jet p\sub{T} < #6 GeV};
\node[anchor=base east, inner sep=0pt, font=\bfseries\fontsize{8.7}{9}\selectfont] at (192.8pt,-24.7pt) {anti-k\sub{T} R = 0.4};
\node[anchor=base east, inner sep=0pt, font=\bfseries\fontsize{8.7}{9}\selectfont] at (192.8pt,-36.8pt) {|η\sub{jet}| < 1.6};
\node[rotate=90, inner sep=0pt] at (-23.6pt,-57.5pt) {\fontsize{11}{12}\selectfont EEC};
\node[rotate=90, inner sep=0pt] at (-24pt,-149.6pt) {\fontsize{11.5}{12}\selectfont $\genfrac{}{}{0.9pt}{0}{\text{Theory}}{\text{Data}}$};
\node[anchor=base, inner sep=0pt] at (100.25pt,-201.6pt) {\fontsize{12}{13}\selectfont Δr};
\end{scope}}

\begin{document}
\begin{tikzpicture}
\useasboundingbox (0pt,0pt) rectangle (488pt,-890pt);
\panel{41pt}{16.5pt}{\tA}{\bA}{120}{140}{1}
\panel{286.5pt}{16.5pt}{\tB}{\bB}{120}{140}{2}
\panel{41pt}{239.75pt}{\tC}{\bC}{140}{160}{1}
\panel{286.5pt}{239.75pt}{\tD}{\bD}{140}{160}{2}
\panel{41pt}{463pt}{\tE}{\bE}{160}{180}{1}
\panel{286.5pt}{463pt}{\tF}{\bF}{160}{180}{2}
\panel{41pt}{686.25pt}{\tG}{\bG}{180}{200}{1}
\panel{286.5pt}{686.25pt}{\tH}{\bH}{180}{200}{2}
\end{tikzpicture}
\end{document}
